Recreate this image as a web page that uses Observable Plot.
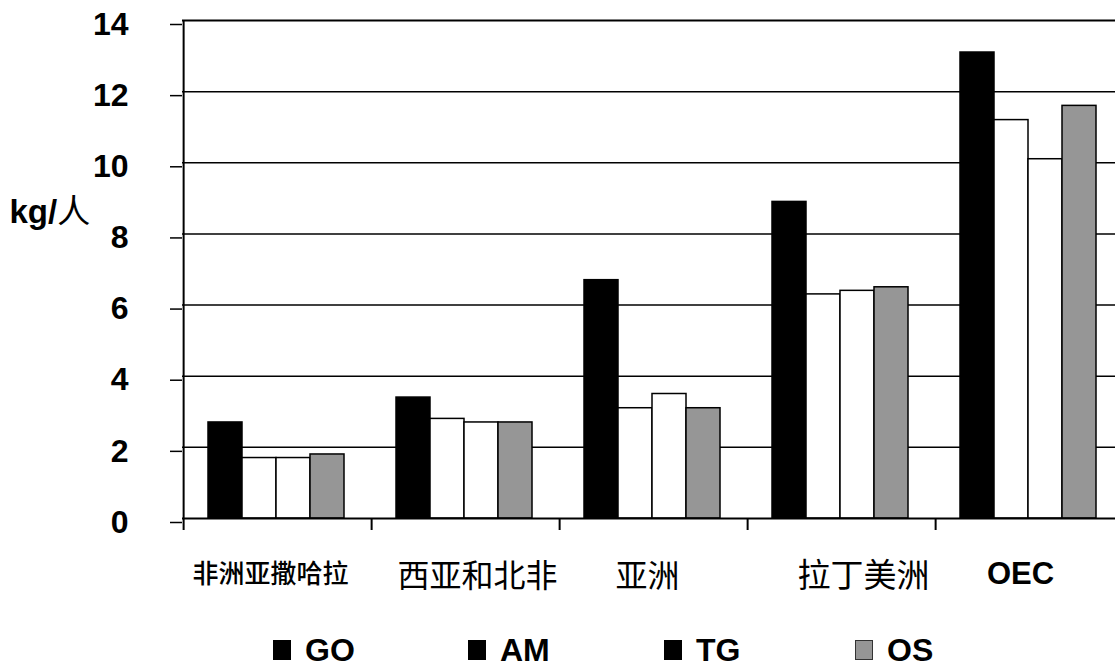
<!DOCTYPE html>
<html>
<head>
<meta charset="utf-8">
<script src="https://cdn.jsdelivr.net/npm/d3@7"></script>
<script src="https://cdn.jsdelivr.net/npm/@observablehq/plot@0.6"></script>
<style>
  html, body { margin: 0; padding: 0; background: #fff; overflow: hidden; }
  #wrap { position: relative; width: 1115px; height: 667px; overflow: hidden; }
  #chart svg { display: block; }
  #legend {
    position: absolute; left: 0; top: 630px; height: 40px; width: 1115px;
    display: flex; align-items: center;
    font-family: "Liberation Sans", Arial, sans-serif; font-weight: bold; font-size: 32px; color: #000;
  }
  #legend .item { position: absolute; display: flex; align-items: center; gap: 14px; }
  #legend .swatch { width: 18px; height: 20px; box-sizing: border-box; }
</style>
</head>
<body>
<div id="wrap">
  <div id="chart"></div>
  <div id="legend"></div>
</div>
<script>
// Regions along the x axis
const regions = ["非洲亚撒哈拉", "西亚和北非", "亚洲", "拉丁美洲", "OEC"];
// Series drawn in each region group
const seriesNames = ["GO", "AM", "TG", "OS"];
// kg per person, one value per region
const goValues = [2.7, 3.4, 6.7, 8.9, 13.1];
const amValues = [1.7, 2.8, 3.1, 6.3, 11.2];
const tgValues = [1.7, 2.7, 3.5, 6.4, 10.1];
const osValues = [1.8, 2.7, 3.1, 6.5, 11.6];
// y axis tick labels
const yTicks = [0, 2, 4, 6, 8, 10, 12, 14];
const yLabel = "kg/人";

const rows = [];
[goValues, amValues, tgValues, osValues].forEach((vals, s) => {
  vals.forEach((v, r) => rows.push({region: regions[r], series: seriesNames[s], value: v}));
});

// Styling
const barFill = ["#000000", "#ffffff", "#ffffff", "#969696"];
const legendFill = ["#000000", "#000000", "#000000", "#969696"];
const legendLeft = [273, 468, 664, 855];
const cjk = "'Noto Sans CJK SC', sans-serif";
const latin = "'Liberation Sans', Arial, sans-serif";
const labelStyle = {
  "非洲亚撒哈拉": {fontSize: 26, dx: -6, dy: 56, fontFamily: cjk, fontWeight: 500},
  "西亚和北非": {fontSize: 32, dx: 13, dy: 58, fontFamily: cjk, fontWeight: 400},
  "亚洲": {fontSize: 32, dx: -5, dy: 58, fontFamily: cjk, fontWeight: 400},
  "拉丁美洲": {fontSize: 33, dx: 23, dy: 58, fontFamily: cjk, fontWeight: 400},
  "OEC": {fontSize: 31, dx: -8, dy: 56, fontFamily: latin, fontWeight: "bold"}
};

const width = 1115, height = 610;
const marginTop = 20, marginBottom = 92, marginLeft = 182, marginRight = -7;
const yMax = 14;
const pxPerUnit = (height - marginTop - marginBottom) / yMax;
const band = (width - marginLeft - marginRight) / regions.length;
const outerPad = 0.705;
const step = band / (seriesNames.length + 2 * outerPad);
const edgeDx = -(outerPad + 0.5) * step;   // from first bar centre to group edge
const tickUnits = 12 / pxPerUnit;            // 12px tick below the baseline

const labelMarks = regions.map(r => Plot.text([r], {
  fx: d => d, text: d => d, frameAnchor: "bottom", lineAnchor: "middle",
  fill: "black", ...labelStyle[r]
}));

const chart = Plot.plot({
  width, height, marginTop, marginBottom, marginLeft, marginRight,
  style: {fontFamily: latin, background: "white", color: "black", overflow: "hidden"},
  fx: {domain: regions, padding: 0, axis: null, label: null},
  x: {domain: seriesNames, paddingInner: 0, paddingOuter: outerPad, align: 0.5, axis: null, label: null},
  y: {domain: [0, yMax], axis: null, label: null},
  color: {type: "ordinal", domain: seriesNames, range: barFill},
  marks: [
    Plot.gridY({ticks: yTicks.filter(v => v > 0 && v < yMax), stroke: "black", strokeOpacity: 1, strokeWidth: 1.5}),
    Plot.ruleY([yMax], {stroke: "black", strokeWidth: 2.2}),
    Plot.barY(rows, {fx: "region", x: "series", y: "value", fill: "series", stroke: "black", strokeWidth: 1.5}),
    Plot.ruleY([0], {stroke: "black", strokeWidth: 2}),
    // axis line on the first group and group-boundary ticks below the baseline
    Plot.ruleX(regions, {
      fx: d => d, x: () => seriesNames[0], dx: edgeDx,
      y1: -tickUnits, y2: d => d === regions[0] ? yMax : 0,
      stroke: "black", strokeWidth: 2
    }),
    Plot.axisY({
      ticks: yTicks, tickSize: 12, tickPadding: 42, facetAnchor: "left",
      fontSize: 32, fontWeight: "bold", fontFamily: latin, dy: 4,
      stroke: "black", strokeWidth: 1.5, label: null
    }),
    Plot.text([yLabel], {
      fx: () => regions[0], text: d => d, frameAnchor: "left", textAnchor: "start",
      dx: 9 - marginLeft, dy: -57, fontSize: 33, fontWeight: "bold", fontFamily: latin, fill: "black"
    }),
    ...labelMarks
  ]
});

// Set the CJK character of the unit label in a regular-weight CJK face
d3.select(chart).selectAll("text").filter(function() { return this.textContent === yLabel; })
  .each(function() {
    const t = d3.select(this);
    t.text(null);
    t.append("tspan").text("kg/");
    t.append("tspan").attr("font-family", cjk).attr("font-weight", 400).text("人");
  });

document.getElementById("chart").appendChild(chart);

// Legend
const legend = document.getElementById("legend");
seriesNames.forEach((name, i) => {
  const item = document.createElement("div");
  item.className = "item";
  item.style.left = legendLeft[i] + "px";
  const sw = document.createElement("span");
  sw.className = "swatch";
  sw.style.background = legendFill[i];
  if (i === 3) sw.style.border = "1.5px solid #333";
  const label = document.createElement("span");
  label.textContent = name;
  item.appendChild(sw);
  item.appendChild(label);
  legend.appendChild(item);
});
</script>
</body>
</html>
